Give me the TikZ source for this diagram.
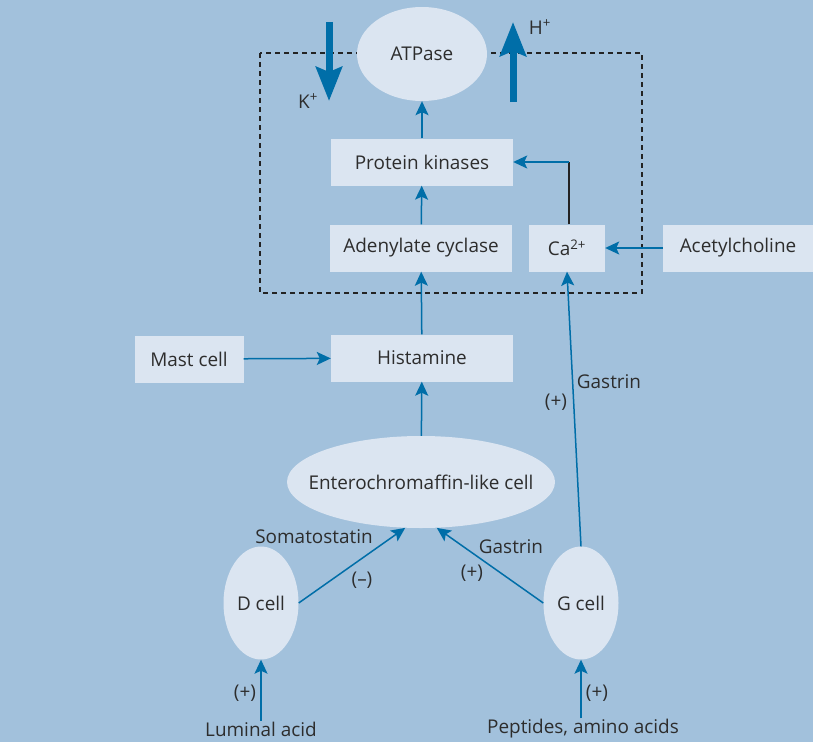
\documentclass[tikz,border=0pt]{standalone}
\usepackage{fontspec}
\setmainfont{Open Sans}
\usetikzlibrary{arrows.meta,shapes.geometric}

\begin{document}
\begin{tikzpicture}[x=1bp,y=-1bp,
    box/.style={fill=boxfill, text=ink, inner sep=0pt, minimum height=47bp, font=\fontsize{19}{23}\selectfont},
    cell/.style={ellipse, fill=boxfill, text=ink, inner sep=0pt, font=\fontsize{19}{23}\selectfont},
    tag/.style={text=ink, inner sep=1pt, font=\fontsize{19}{23}\selectfont},
    link/.style={draw=arrowblue, line width=1.5bp, -{Stealth[length=14bp,width=13bp,inset=3bp]}},
    pump/.style={draw=arrowblue, line width=7bp, -{Stealth[length=34bp,width=26bp,inset=5bp]}}]

    % Colors
    \definecolor{background}{RGB}{162,193,220} % light blue
    \definecolor{boxfill}{RGB}{219,229,241} % pale blue
    \definecolor{arrowblue}{RGB}{0,110,168} % dark blue
    \definecolor{ink}{RGB}{45,45,45} % text
    \definecolor{dashes}{RGB}{35,35,35} % membrane

    % Background
    \useasboundingbox (0,0) rectangle (813,742);
    \fill[background] (0,0) rectangle (813,742);

    % Parietal cell (dashed)
    \draw[dashes, line width=1.2bp, dash pattern=on 5bp off 4bp] (260,53) rectangle (642,293);

    % Pump and ion fluxes
    \node[cell, minimum width=130bp, minimum height=94bp] (atp) at (422,54) {ATPase};
    \coordinate (kin) at (329,22);
    \coordinate (kout) at (329,101);
    \coordinate (hin) at (513,102);
    \coordinate (hout) at (513,22);
    \draw[pump] (kin) -- (kout);
    \draw[pump] (hin) -- (hout);
    \node[tag] (k) at (308,101) {K\textsuperscript{+}};
    \node[tag] (h) at (540,27) {H\textsuperscript{+}};

    % Second messengers
    \node[box, minimum width=182bp] (pk) at (422,162) {Protein kinases};
    \node[box, minimum width=182bp] (ac) at (421,248) {Adenylate cyclase};
    \node[box, minimum width=76bp] (ca) at (567,248) {Ca\textsuperscript{2+}};
    \node[box, minimum width=150bp] (ach) at (738,248) {Acetylcholine};

    % Histamine
    \node[box, minimum width=182bp] (hist) at (422,358) {Histamine};
    \node[box, minimum width=109bp] (mast) at (189,359) {Mast cell};

    % Cells
    \node[cell, minimum width=268bp, minimum height=92bp, inner xsep=-24bp] (ecl) at (421,482) {Enterochromaffin-like cell};
    \node[cell, minimum width=75bp, minimum height=113bp] (dcell) at (261,603) {D cell};
    \node[cell, minimum width=75bp, minimum height=113bp] (gcell) at (581,603) {G cell};

    % Stimuli
    \node[tag] (acid) at (261,729) {Luminal acid};
    \node[tag] (pep) at (583,729) {Peptides, amino acids};

    % Arrows
    \draw[link] (pk) -- (atp);
    \draw[link] (ac) -- (pk);
    \coordinate (bend) at (569,162);
    \draw[dashes, line width=1.5bp] (ca.north -| bend) -- (bend);
    \draw[link] (bend) -- (pk.east);
    \draw[link] (ach) -- (ca);
    \draw[link] (hist) -- (ac);
    \draw[link] (mast) -- (hist);
    \draw[link] (ecl) -- (hist);
    \draw[link] (dcell.east) -- (ecl.251);
    \draw[link] (gcell.west) -- (ecl.289);
    \draw[link] (gcell.north) -- (ca.south);
    \draw[link] (acid) -- (dcell);
    \draw[link] (pep.north -| gcell) -- (gcell);

    % Labels on arrows
    \node[tag] (soma) at (314,537) {Somatostatin};
    \node[tag] (minus) at (362,580) {(–)};
    \node[tag] (gastrinlow) at (511,547) {Gastrin};
    \node[tag] (pluslow) at (472,573) {(+)};
    \node[tag] (gastrinhigh) at (609,382) {Gastrin};
    \node[tag] (plushigh) at (556,402) {(+)};
    \node[tag] (plusacid) at (245,693) {(+)};
    \node[tag] (pluspep) at (597,693) {(+)};

\end{tikzpicture}
\end{document}
